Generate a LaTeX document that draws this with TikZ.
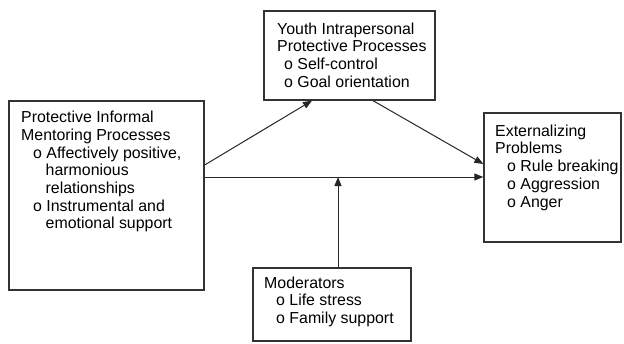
\documentclass[tikz,border=0pt]{standalone}
\usepackage{fontspec}
\setmainfont{Liberation Sans}
\usetikzlibrary{arrows.meta}
\begin{document}
\begin{tikzpicture}[x=1pt,y=-1pt,
  box/.style={draw=black!80,line width=1.3pt,inner sep=0pt,minimum width=#1},
  txt/.style={anchor=north west,inner sep=0pt,align=left,text=black,
    font=\fontsize{15.9}{17.7}\selectfont},
  arr/.style={draw=black!85,line width=1pt,-{Triangle[length=9pt,width=7pt]}}]
\useasboundingbox (0,0) rectangle (624,343);
% boxes
\node[box=195pt,minimum height=189pt] (L) at (106.5,195.5) {};
\node[box=171pt,minimum height=89pt] (T) at (349.5,55.5) {};
\node[box=137pt,minimum height=129pt] (R) at (552.5,177.5) {};
\node[box=158pt,minimum height=73pt] (B) at (332,304.5) {};
% texts
\def\bl{o\ }
\def\ind{\hspace*{12pt}}
\def\indd{\hspace*{24.5pt}}
\node[txt] (Lt) at (21,111) {Protective Informal\\Mentoring Processes\\\ind\bl Affectively positive,\\\indd harmonious\\\indd relationships\\\ind\bl Instrumental and\\\indd emotional support};
\node[txt] (Tt) at (277,22.5) {Youth Intrapersonal\\Protective Processes\\\hspace*{7pt}\bl Self-control\\\hspace*{7pt}\bl Goal orientation};
\node[txt] (Rt) at (495,124.5) {Externalizing\\Problems\\\ind\bl Rule breaking\\\ind\bl Aggression\\\ind\bl Anger};
\node[txt] (Bt) at (264,276.5) {Moderators\\\ind\bl Life stress\\\ind\bl Family support};
% connectors
\coordinate (h1) at ([yshift=18.5pt]L.east);
\draw[arr] ([yshift=30.5pt]L.east) -- ([xshift=-37.5pt]T.south);
\draw[arr] ([xshift=23.5pt]T.south) -- ([yshift=13.5pt]R.west);
\draw[arr] (h1) -- (h1 -| R.west);
\draw[arr] ([xshift=6pt]B.north) -- ([xshift=6pt]B.north |- h1);
\end{tikzpicture}
\end{document}
